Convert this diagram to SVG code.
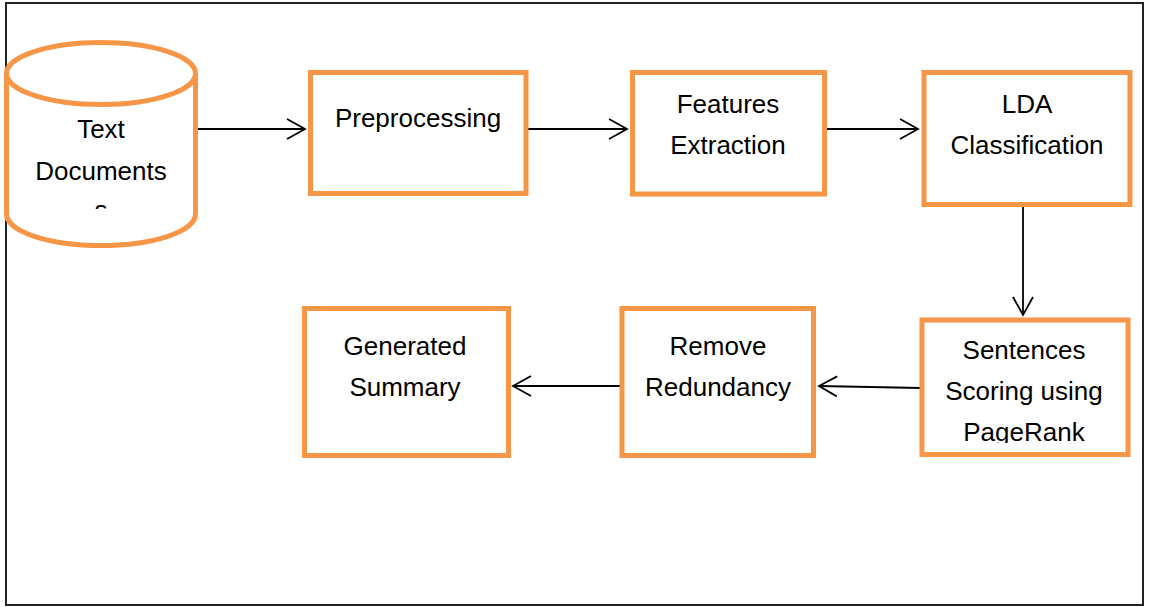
<svg xmlns="http://www.w3.org/2000/svg" width="1150" height="607" viewBox="0 0 1150 607">
<style>
.box{fill:#fff;stroke:#F79646;stroke-width:5}
.lbl{font-family:"Liberation Sans",Arial,sans-serif;font-size:26px;fill:#000;text-anchor:middle}
.conn{fill:none;stroke:#000;stroke-width:1.8}
</style>
<defs>
<marker id="arr" markerUnits="userSpaceOnUse" markerWidth="24" markerHeight="24" viewBox="-20 -12 22 24" refX="0" refY="0" orient="auto">
<path d="M-18,-10 L0,0 L-18,10" fill="none" stroke="#000" stroke-width="1.8"/>
</marker>
<clipPath id="cylclip"><rect x="0" y="0" width="210" height="209"/></clipPath>
<clipPath id="senclip"><rect x="900" y="300" width="250" height="143"/></clipPath>
</defs>
<rect x="6" y="3" width="1137" height="602" fill="#fff" stroke="#222" stroke-width="2"/>
<g id="connectors">
<line class="conn" x1="196" y1="129" x2="305" y2="129" marker-end="url(#arr)"/>
<line class="conn" x1="528" y1="129" x2="627" y2="129" marker-end="url(#arr)"/>
<line class="conn" x1="826" y1="129" x2="918" y2="129" marker-end="url(#arr)"/>
<line class="conn" x1="1023" y1="207" x2="1023" y2="315" marker-end="url(#arr)"/>
<line class="conn" x1="921" y1="388" x2="819" y2="386" marker-end="url(#arr)"/>
<line class="conn" x1="620" y1="386" x2="513" y2="386" marker-end="url(#arr)"/>
</g>
<g id="text-documents">
<path class="box" d="M6.5,73.5 L6.5,214 A94.5,31.5 0 0 0 195.5,214 L195.5,73.5"/>
<ellipse class="box" cx="101" cy="73.5" rx="94.5" ry="31"/>
<g clip-path="url(#cylclip)">
<text class="lbl" x="101" y="138">Text</text>
<text class="lbl" x="101" y="180">Documents</text>
<text class="lbl" x="101" y="219">s</text>
</g>
</g>
<g id="preprocessing">
<rect class="box" x="310.5" y="72.5" width="215.5" height="121"/>
<text class="lbl" x="418" y="127">Preprocessing</text>
</g>
<g id="features-extraction">
<rect class="box" x="632.5" y="72.5" width="192" height="121.5"/>
<text class="lbl" x="728" y="113">Features</text>
<text class="lbl" x="728" y="154">Extraction</text>
</g>
<g id="lda-classification">
<rect class="box" x="924" y="72.5" width="206" height="132"/>
<text class="lbl" x="1027" y="113">LDA</text>
<text class="lbl" x="1027" y="154">Classification</text>
</g>
<g id="sentences-scoring">
<rect class="box" x="922" y="320" width="206" height="134.5"/>
<g clip-path="url(#senclip)">
<text class="lbl" x="1024" y="359">Sentences</text>
<text class="lbl" x="1024" y="400">Scoring using</text>
<text class="lbl" x="1024" y="441">PageRank</text>
</g>
</g>
<g id="remove-redundancy">
<rect class="box" x="622" y="308.5" width="191.5" height="147"/>
<text class="lbl" x="718" y="355">Remove</text>
<text class="lbl" x="718" y="396">Redundancy</text>
</g>
<g id="generated-summary">
<rect class="box" x="304.5" y="308.5" width="204" height="147"/>
<text class="lbl" x="405" y="355">Generated</text>
<text class="lbl" x="405" y="396">Summary</text>
</g>
</svg>
